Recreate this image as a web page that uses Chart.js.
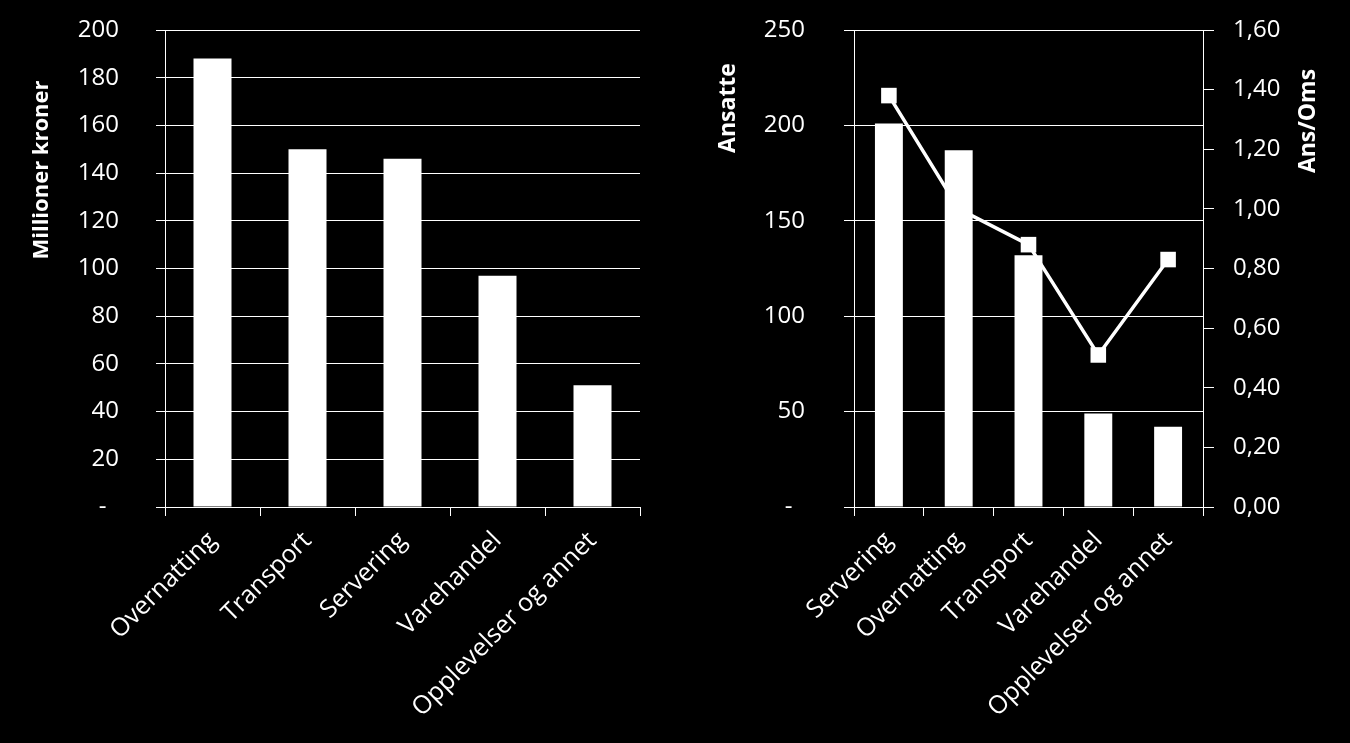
<!DOCTYPE html>
<html>
<head>
<meta charset="utf-8">
<script src="https://cdn.jsdelivr.net/npm/chart.js@4.4.1/dist/chart.umd.min.js"></script>
<style>
  html, body { margin: 0; padding: 0; background: #000; }
  #wrap { position: relative; width: 1350px; height: 743px; background: #000; overflow: hidden; }
  canvas { position: absolute; top: 0; }
</style>
</head>
<body>
<div id="wrap">
  <canvas id="chart-left" width="680" height="743" style="left:0"></canvas>
  <canvas id="chart-right" width="670" height="743" style="left:680px"></canvas>
</div>
<script>
// left: omsetning per naering
const LEFT_CATEGORIES = ['Overnatting', 'Transport', 'Servering', 'Varehandel', 'Opplevelser og annet'];
const OMSETNING = [188, 150, 146, 97, 51];

// right: ansatte + ansatte/omsetning
const RIGHT_CATEGORIES = ['Servering', 'Overnatting', 'Transport', 'Varehandel', 'Opplevelser og annet'];
const ANSATTE = [201, 187, 132, 49, 42];
const ANS_OMS = [1.38, 1.00, 0.88, 0.51, 0.83];

const WHITE = '#ffffff';
const FONT = { family: '"Open Sans", "Noto Sans", sans-serif', size: 24 };
const XFONT = { family: '"Open Sans", "Noto Sans", sans-serif', size: 25 };

const axisTitles = {
  id: 'axisTitles',
  afterDraw(chart, args, opts) {
    const ctx = chart.ctx;
    (opts.items || []).forEach(t => {
      ctx.save();
      ctx.translate(t.x, t.y);
      ctx.rotate(-Math.PI / 2);
      ctx.font = 'bold ' + t.size + 'px "Open Sans", "Noto Sans", sans-serif';
      ctx.fillStyle = WHITE;
      ctx.textAlign = 'center';
      ctx.textBaseline = 'middle';
      ctx.fillText(t.text, 0, 0);
      ctx.restore();
    });
  }
};

function xScale() {
  return {
    ticks: { color: WHITE, font: XFONT, minRotation: 45, maxRotation: 45, autoSkip: false, padding: 10 },
    grid:  { color: WHITE, drawOnChartArea: false, tickLength: 9, offset: true },
    border: { color: WHITE, width: 1 },
    afterFit: s => { s.height = 236; }
  };
}

// fixed axis width, and drop the label padding chart.js adds above/below the axis
function fixWidth(w) {
  return s => {
    s.width = w;
    s.paddingTop = 0;
    s.paddingBottom = 0;
  };
}

function dashZero(v) {
  return v === 0 ? '-  ' : v;
}

new Chart(document.getElementById('chart-left').getContext('2d'), {
  type: 'bar',
  data: {
    labels: LEFT_CATEGORIES,
    datasets: [{
      data: OMSETNING,
      backgroundColor: WHITE,
      borderWidth: 0,
      categoryPercentage: 1,
      barPercentage: 0.4
    }]
  },
  plugins: [axisTitles],
  options: {
    responsive: false,
    animation: false,
    layout: { padding: { top: 30, right: 40, left: 0, bottom: 0 } },
    plugins: {
      legend: { display: false },
      tooltip: { enabled: false },
      axisTitles: { items: [{ text: 'Millioner kroner', x: 42, y: 170, size: 22 }] }
    },
    scales: {
      x: xScale(),
      y: {
        min: 0,
        max: 200,
        ticks: { stepSize: 20, color: WHITE, font: FONT, padding: 37, callback: dashZero },
        grid:  { color: WHITE, lineWidth: 1, tickLength: 9 },
        border: { color: WHITE, width: 1 },
        afterFit: fixWidth(165)
      }
    }
  }
});

new Chart(document.getElementById('chart-right').getContext('2d'), {
  type: 'bar',
  data: {
    labels: RIGHT_CATEGORIES,
    datasets: [
      {
        type: 'bar',
        data: ANSATTE,
        yAxisID: 'y',
        backgroundColor: WHITE,
        borderWidth: 0,
        categoryPercentage: 1,
        barPercentage: 0.4,
        order: 0
      },
      {
        type: 'line',
        data: ANS_OMS,
        yAxisID: 'y1',
        borderColor: WHITE,
        borderWidth: 3.5,
        pointStyle: 'rect',
        pointRadius: 11,
        pointBackgroundColor: WHITE,
        pointBorderColor: WHITE,
        pointBorderWidth: 0,
        tension: 0,
        order: 1
      }
    ]
  },
  plugins: [axisTitles],
  options: {
    responsive: false,
    animation: false,
    layout: { padding: { top: 30, right: 0, left: 0, bottom: 0 } },
    plugins: {
      legend: { display: false },
      tooltip: { enabled: false },
      axisTitles: { items: [
        { text: 'Ansatte', x: 48, y: 108, size: 23 },
        { text: 'Ans/Oms', x: 628, y: 121, size: 23 }
      ] }
    },
    scales: {
      x: xScale(),
      y: {
        position: 'left',
        min: 0,
        max: 250,
        ticks: { stepSize: 50, color: WHITE, font: FONT, padding: 39, callback: dashZero },
        grid:  { color: WHITE, lineWidth: 1, tickLength: 10 },
        border: { color: WHITE, width: 1 },
        afterFit: fixWidth(174)
      },
      y1: {
        position: 'right',
        min: 0,
        max: 1.6,
        ticks: { stepSize: 0.2, color: WHITE, font: FONT, padding: 19,
                 callback: v => v.toFixed(2).replace('.', ',') },
        grid:  { color: WHITE, drawOnChartArea: false, tickLength: 11 },
        border: { color: WHITE, width: 1 },
        afterFit: fixWidth(147)
      }
    }
  }
});
</script>
</body>
</html>
